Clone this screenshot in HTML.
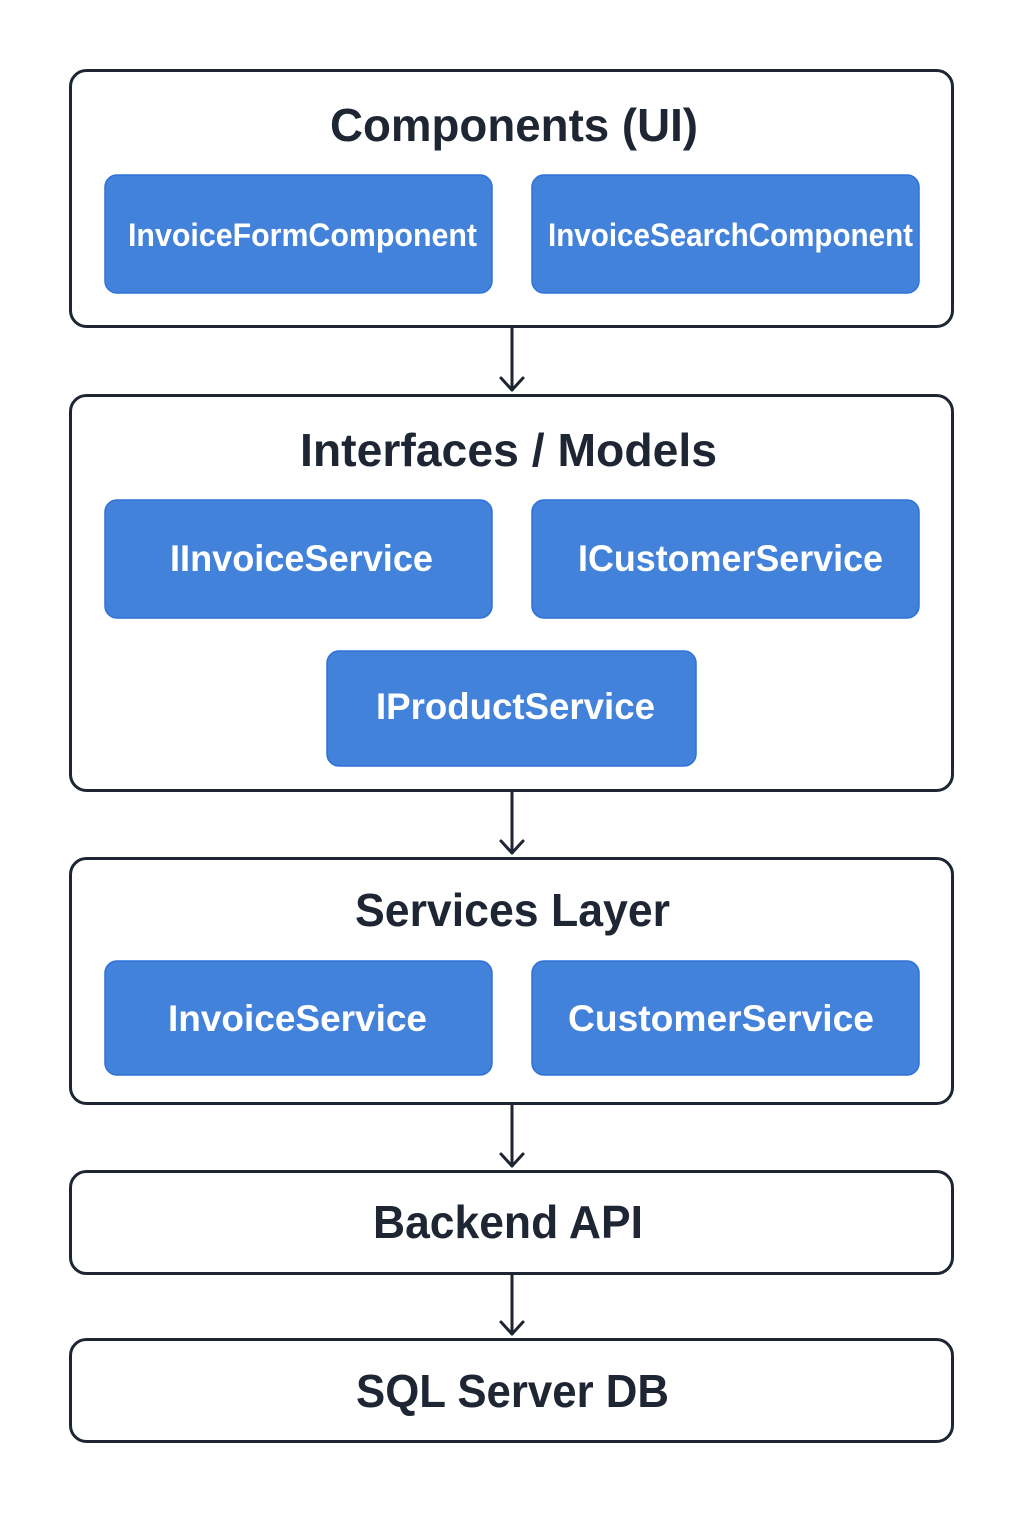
<!DOCTYPE html>
<html><head><meta charset="utf-8"><style>
html,body{margin:0;padding:0;background:#fff;}
svg{display:block;}
</style></head><body>
<svg width="1024" height="1536" viewBox="0 0 1024 1536" xmlns="http://www.w3.org/2000/svg">
<rect width="1024" height="1536" fill="#fff"/>
<g fill="#fff" stroke="#1e2533" stroke-width="3">
<rect x="70.5" y="70.5" width="882" height="256" rx="16"/>
<rect x="70.5" y="395.5" width="882" height="395" rx="16"/>
<rect x="70.5" y="858.5" width="882" height="245" rx="16"/>
<rect x="70.5" y="1171.5" width="882" height="102" rx="16"/>
<rect x="70.5" y="1339.5" width="882" height="102" rx="16"/>
</g>
<g fill="#4282db" stroke="#2f72d8" stroke-width="1.5">
<rect x="105" y="175" width="387" height="118" rx="12"/>
<rect x="532" y="175" width="387" height="118" rx="12"/>
<rect x="105" y="500" width="387" height="118" rx="12"/>
<rect x="532" y="500" width="387" height="118" rx="12"/>
<rect x="327" y="651" width="369" height="115" rx="12"/>
<rect x="105" y="961" width="387" height="114" rx="12"/>
<rect x="532" y="961" width="387" height="114" rx="12"/>
</g>
<g stroke="#1e2533" stroke-width="3" fill="none" stroke-linecap="round" stroke-linejoin="round">
<line x1="512" y1="328" x2="512" y2="390"/><polyline points="501,378 512,390 523,378"/>
<line x1="512" y1="792" x2="512" y2="853"/><polyline points="501,841 512,853 523,841"/>
<line x1="512" y1="1105" x2="512" y2="1166"/><polyline points="501,1154 512,1166 523,1154"/>
<line x1="512" y1="1275" x2="512" y2="1334"/><polyline points="501,1322 512,1334 523,1322"/>
</g>
<g font-family="Liberation Sans, sans-serif" font-weight="bold" fill="#1e2533" font-size="46">
<text x="330" y="141" textLength="368" lengthAdjust="spacingAndGlyphs">Components (UI)</text>
<text x="300" y="466" textLength="417" lengthAdjust="spacingAndGlyphs">Interfaces / Models</text>
<text x="355" y="926" textLength="315" lengthAdjust="spacingAndGlyphs">Services Layer</text>
<text x="373" y="1238" textLength="270" lengthAdjust="spacingAndGlyphs">Backend API</text>
<text x="356" y="1407" textLength="313" lengthAdjust="spacingAndGlyphs">SQL Server DB</text>
</g>
<g font-family="Liberation Sans, sans-serif" font-weight="bold" fill="#fff">
<text x="128" y="246" font-size="32" textLength="349" lengthAdjust="spacingAndGlyphs">InvoiceFormComponent</text>
<text x="548" y="246" font-size="32" textLength="365" lengthAdjust="spacingAndGlyphs">InvoiceSearchComponent</text>
<text x="170" y="571" font-size="37" textLength="263" lengthAdjust="spacingAndGlyphs">IInvoiceService</text>
<text x="578" y="571" font-size="37" textLength="305" lengthAdjust="spacingAndGlyphs">ICustomerService</text>
<text x="376" y="719" font-size="37" textLength="279" lengthAdjust="spacingAndGlyphs">IProductService</text>
<text x="168" y="1031" font-size="37" textLength="259" lengthAdjust="spacingAndGlyphs">InvoiceService</text>
<text x="568" y="1031" font-size="37" textLength="306" lengthAdjust="spacingAndGlyphs">CustomerService</text>
</g>
</svg>
</body></html>
